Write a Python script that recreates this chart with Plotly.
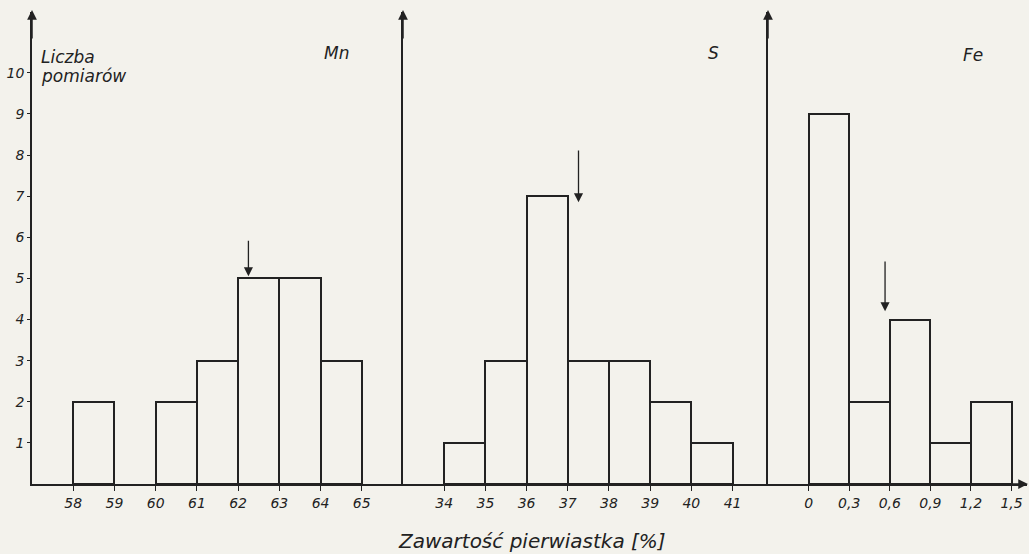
import plotly.graph_objects as go

# ---- data ----
mn_edges = [58, 59, 60, 61, 62, 63, 64, 65]
mn_counts = [2, 0, 2, 3, 5, 5, 3]
s_edges = [34, 35, 36, 37, 38, 39, 40, 41]
s_counts = [1, 3, 7, 3, 3, 2, 1]
fe_edges = [0, 0.3, 0.6, 0.9, 1.2, 1.5]
fe_counts = [9, 2, 4, 1, 2]
fe_ticktext = ["0", "0,3", "0,6", "0,9", "1,2", "1,5"]
y_ticks = [1, 2, 3, 4, 5, 6, 7, 8, 9, 10]
panel_titles = ["Mn", "S", "Fe"]
# mean markers (x position, arrow tail y, arrow tip y)
mean_x = [62.25, 37.26, 0.565]
arrow_tail = [5.95, 8.15, 5.45]
arrow_tip = [5.05, 6.85, 4.2]

W, H = 1029, 554
BG = "#f3f2ec"
INK = "#222222"
FONT = "DejaVu Sans"

def px(x):
    return x / W

def py(y):
    return 1 - y / H

y_range = [0, 11.48]
y_dom = [py(484), py(12)]

fig = go.Figure()

panels = [
    (mn_edges, mn_counts, "x", "y"),
    (s_edges, s_counts, "x2", "y2"),
    (fe_edges, fe_counts, "x3", "y3"),
]
for edges, counts, xa, ya in panels:
    centers = [(edges[i] + edges[i + 1]) / 2 for i in range(len(counts))]
    widths = [edges[i + 1] - edges[i] for i in range(len(counts))]
    xs = [c for c, n in zip(centers, counts) if n > 0]
    ws = [w for w, n in zip(widths, counts) if n > 0]
    ns = [n for n in counts if n > 0]
    fig.add_trace(go.Bar(
        x=xs, y=ns, width=ws, xaxis=xa, yaxis=ya,
        marker=dict(color="rgba(0,0,0,0)", line=dict(color=INK, width=2)),
        showlegend=False, hoverinfo="x+y",
    ))

tickfont = dict(family=FONT, size=14, color=INK)
common_x = dict(showline=True, linecolor=INK, linewidth=1.5, ticks="outside",
                ticklen=5, tickcolor=INK, tickwidth=1.2, showgrid=False,
                zeroline=False, tickfont=tickfont, fixedrange=True)
common_y = dict(range=y_range, domain=y_dom, showline=True, linecolor=INK,
                linewidth=1.5, showgrid=False, zeroline=False, fixedrange=True)

fig.update_layout(
    width=W, height=H,
    margin=dict(l=0, r=0, t=0, b=0),
    paper_bgcolor=BG, plot_bgcolor="rgba(0,0,0,0)",
    bargap=0,
    xaxis=dict(domain=[px(32), px(403)], range=[57, 66.0], anchor="y",
               tickvals=mn_edges, ticktext=[f"<i>{v}</i>" for v in mn_edges], **common_x),
    xaxis2=dict(domain=[px(403), px(768)], range=[33, 41.86], anchor="y2",
                tickvals=s_edges, ticktext=[f"<i>{v}</i>" for v in s_edges], **common_x),
    xaxis3=dict(domain=[px(768), px(1027)], range=[-0.3, 1.614], anchor="y3",
                tickvals=fe_edges, ticktext=[f"<i>{t}</i>" for t in fe_ticktext], **common_x),
    yaxis=dict(anchor="x", tickvals=y_ticks, ticktext=[f"<i>{v}</i>" for v in y_ticks],
               ticks="outside", ticklen=3, tickcolor=INK, tickfont=tickfont,
               **common_y),
    yaxis2=dict(anchor="x2", showticklabels=False, ticks="", **common_y),
    yaxis3=dict(anchor="x3", showticklabels=False, ticks="", **common_y),
)

anns = []
# axis arrowheads (y axes top, x axis right end)
for xpx in [32, 403, 768]:
    anns.append(dict(xref="paper", yref="paper", x=px(xpx), y=py(10),
                     ax=0, ay=30, axref="pixel", ayref="pixel",
                     showarrow=True, arrowhead=2, arrowsize=1.3, arrowwidth=1.5,
                     arrowcolor=INK, text=""))
anns.append(dict(xref="paper", yref="paper", x=px(1028), y=py(484),
                 ax=-28, ay=0, axref="pixel", ayref="pixel",
                 showarrow=True, arrowhead=2, arrowsize=1.3, arrowwidth=1.5,
                 arrowcolor=INK, text=""))

# mean arrows
for (xa, ya), mx, t0, t1 in zip([("x", "y"), ("x2", "y2"), ("x3", "y3")],
                                 mean_x, arrow_tail, arrow_tip):
    anns.append(dict(xref=xa, yref=ya, x=mx, y=t1, ax=mx, ay=t0,
                     axref=xa, ayref=ya, showarrow=True, arrowhead=2,
                     arrowsize=1.4, arrowwidth=1.3, arrowcolor=INK, text=""))

# panel titles
for name, xpx, ypx in zip(panel_titles, [336, 713, 973], [53, 53, 55]):
    anns.append(dict(xref="paper", yref="paper", x=px(xpx), y=py(ypx),
                     text=f"<i>{name}</i>", showarrow=False,
                     font=dict(family=FONT, size=17, color=INK),
                     xanchor="center", yanchor="middle"))

# y-axis label
anns.append(dict(xref="paper", yref="paper", x=px(39), y=py(57),
                 text="<i>Liczba</i>", showarrow=False,
                 font=dict(family=FONT, size=17, color=INK),
                 xanchor="left", yanchor="middle"))
anns.append(dict(xref="paper", yref="paper", x=px(39), y=py(76),
                 text="<i>pomiarów</i>", showarrow=False,
                 font=dict(family=FONT, size=17, color=INK),
                 xanchor="left", yanchor="middle"))

# x-axis title
anns.append(dict(xref="paper", yref="paper", x=px(532), y=py(541),
                 text="<i>Zawartość pierwiastka [%]</i>", showarrow=False,
                 font=dict(family=FONT, size=20, color=INK),
                 xanchor="center", yanchor="middle"))

fig.update_layout(annotations=anns)

fig.write_html(
    "out.html",
    config={"displayModeBar": False},
    post_script="document.body.style.margin='0';document.body.style.overflow='hidden';"
                "document.body.style.background='" + BG + "';",
)
